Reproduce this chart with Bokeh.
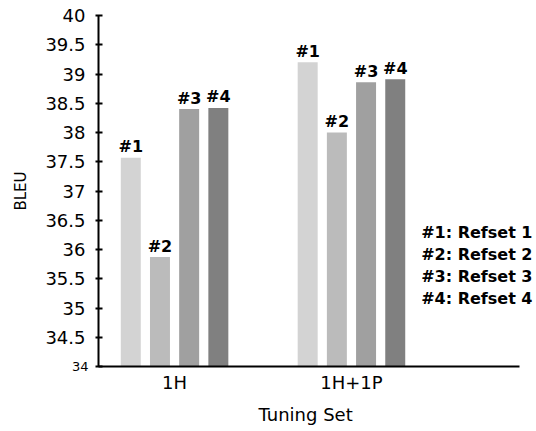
from bokeh.plotting import figure
from bokeh.models import ColumnDataSource, FixedTicker, Label, Range1d, LinearAxis, Title
from bokeh.core.properties import value
from bokeh.embed import file_html
from bokeh.resources import INLINE

# ---- data ----
groups = ["1H", "1H+1P"]
series = ["#1", "#2", "#3", "#4"]
legend_texts = ["#1: Refset 1", "#2: Refset 2", "#3: Refset 3", "#4: Refset 4"]
bleu_1h = [37.57, 35.87, 38.40, 38.42]
bleu_1h1p = [39.20, 38.00, 38.86, 38.91]
colors = ["#d3d3d3", "#bbbbbb", "#a0a0a0", "#808080"]
y_ticks = [34, 34.5, 35, 35.5, 36, 36.5, 37, 37.5, 38, 38.5, 39, 39.5, 40]
y_tick_labels = ["34", "34.5", "35", "35.5", "36", "36.5", "37", "37.5", "38", "38.5", "39", "39.5", "40"]

FONT = "DejaVu Sans"
X0, X1 = 0.57, 2.95       # extent of the drawn x axis
XR_END = 3.046            # frame extends further right to hold the legend text
STEP = 0.165
BAR_W = 0.113

xs, ys, cs, ts = [], [], [], []
for gi, vals in enumerate([bleu_1h, bleu_1h1p]):
    for si, v in enumerate(vals):
        xs.append(gi + 1 + (si - 1.5) * STEP)
        ys.append(v)
        cs.append(colors[si])
        ts.append(series[si])
src = ColumnDataSource(dict(x=xs, top=ys, color=cs, label=ts))

p = figure(width=536, height=431, output_backend="svg", toolbar_location=None,
           x_range=Range1d(X0, XR_END), y_range=Range1d(34, 40),
           min_border_left=98, min_border_right=0, min_border_top=15, min_border_bottom=63)
p.outline_line_color = None
p.xgrid.grid_line_color = None
p.ygrid.grid_line_color = None
p.background_fill_color = "white"
p.border_fill_color = "white"

p.vbar(x="x", top="top", bottom=34, width=BAR_W, fill_color="color", line_color=None, source=src)
p.text(x="x", y="top", text="label", source=src, text_font=value(FONT),
       text_font_size="16px", text_font_style="bold", text_align="center",
       text_baseline="alphabetic", y_offset=-11, text_color="black")

# inner y axis: axis line, ticks and the small "34" label
yax = p.yaxis[0]
yax.ticker = FixedTicker(ticks=y_ticks)
yax.major_label_overrides = {t: (l if t == y_ticks[0] else "") for t, l in zip(y_ticks, y_tick_labels)}
yax.minor_tick_line_color = None
yax.major_tick_in = 4
yax.major_tick_out = 3
yax.major_tick_line_width = 2
yax.major_tick_line_color = "black"
yax.axis_line_width = 2
yax.axis_line_color = "black"
yax.major_label_text_font = FONT
yax.major_label_text_font_size = "13px"
yax.major_label_text_color = "black"
yax.major_label_standoff = 7

# outer y axis: the other tick labels and the axis title, pulled back onto the inner one
yax2 = LinearAxis(ticker=FixedTicker(ticks=y_ticks),
                  major_label_overrides={t: ("" if t == y_ticks[0] else l) for t, l in zip(y_ticks, y_tick_labels)},
                  axis_line_color=None, major_tick_line_color=None, minor_tick_line_color=None,
                  major_tick_in=0, major_tick_out=0,
                  major_label_standoff=-17,
                  major_label_text_font=FONT, major_label_text_font_size="18px",
                  major_label_text_color="black",
                  axis_label="BLEU", axis_label_text_font=FONT, axis_label_text_font_size="15px",
                  axis_label_text_font_style="normal", axis_label_text_color="black",
                  axis_label_standoff=12)
p.add_layout(yax2, "left")

# x axis
xax = p.xaxis[0]
xax.ticker = FixedTicker(ticks=[1, 2])
xax.major_label_overrides = {i + 1: g for i, g in enumerate(groups)}
xax.bounds = (X0, X1)
xax.minor_tick_line_color = None
xax.major_tick_line_color = None
xax.major_tick_in = 0
xax.major_tick_out = 0
xax.axis_line_width = 2
xax.axis_line_color = "black"
xax.major_label_text_font = FONT
xax.major_label_text_font_size = "18px"
xax.major_label_text_color = "black"
xax.major_label_standoff = 5

# x axis title, centred under the drawn axis rather than the wider frame
p.add_layout(Title(text="Tuning Set", align="left", offset=160, standoff=13,
                   text_font=FONT, text_font_size="18px", text_font_style="normal",
                   text_color="black"), "below")

# legend texts (canvas x, data y)
LEG_Y0 = 36.29
LEG_DY = 0.374
for i, t in enumerate(legend_texts):
    p.add_layout(Label(x=532, y=LEG_Y0 - i * LEG_DY, x_units="canvas", text=t,
                       text_font=FONT, text_font_size="16px", text_font_style="bold",
                       text_align="right", text_baseline="middle", text_color="black"))

open("out.html", "w").write(file_html(p, INLINE))
